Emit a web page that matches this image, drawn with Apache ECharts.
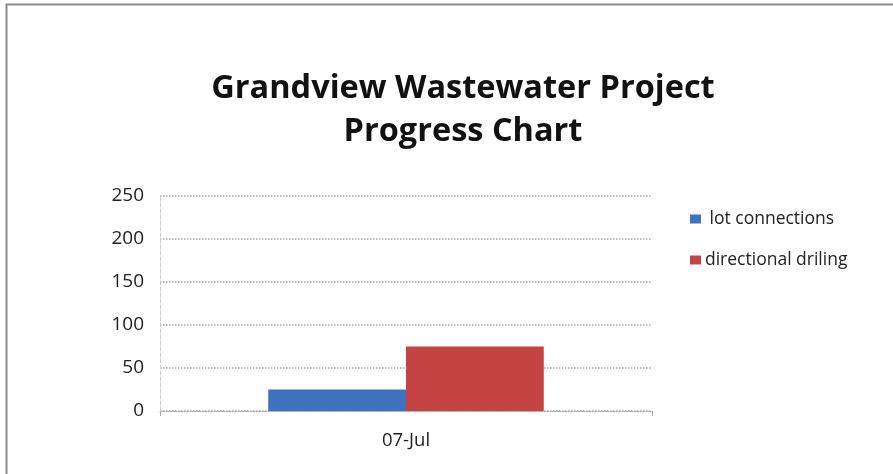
<!DOCTYPE html>
<html><head><meta charset="utf-8">
<script src="https://cdn.jsdelivr.net/npm/echarts@6/dist/echarts.min.js"></script>
<style>html,body{margin:0;padding:0;background:#fff}#c{width:893px;height:474px}</style>
</head><body><div id="c"></div>
<script>
const categories = ['07-Jul'];
const seriesNames = [' lot connections', 'directional driling'];
const lotConnections = [25];
const directionalDrilling = [75];
const yTicks = [0, 50, 100, 150, 200, 250];

const chart = echarts.init(document.getElementById('c'), null, {renderer: 'canvas'});
const fontFam = '"Open Sans", "Noto Sans", sans-serif';
chart.setOption({
  animation: false,
  backgroundColor: '#fff',
  title: {
    text: 'Grandview Wastewater Project\nProgress Chart',
    left: 458, top: 62, textAlign: 'center',
    textStyle: {fontFamily: fontFam, fontWeight: 'bold', fontSize: 32.5, lineHeight: 43, color: '#111'}
  },
  legend: {
    orient: 'vertical', left: 685, top: 205, itemGap: 23,
    itemWidth: 11, itemHeight: 9, icon: 'rect',
    textStyle: {fontFamily: fontFam, fontSize: 17.5, color: '#222', padding: [0, 0, 0, -1]},
    data: seriesNames
  },
  grid: {left: 160, right: 241, top: 196, bottom: 63, containLabel: false},
  xAxis: {
    type: 'category', data: categories,
    axisLine: {lineStyle: {color: '#aaa', type: 'dotted'}},
    axisTick: {show: true, alignWithLabel: false, lineStyle: {color: '#aaa'}},
    axisLabel: {fontFamily: fontFam, fontSize: 18.5, color: '#222', margin: 20}
  },
  yAxis: {
    type: 'value', min: yTicks[0], max: yTicks[yTicks.length - 1], interval: 50,
    axisLine: {show: true, lineStyle: {color: '#ccc', type: 'dashed'}},
    axisTick: {show: false},
    splitLine: {lineStyle: {color: '#aaa', type: 'dotted', width: 1.5}},
    axisLabel: {fontFamily: fontFam, fontSize: 19, color: '#222', margin: 16}
  },
  series: [
    {name: seriesNames[0], type: 'bar', data: lotConnections, barGap: '0%', barCategoryGap: '44%',
     itemStyle: {color: '#3f73bf'}},
    {name: seriesNames[1], type: 'bar', data: directionalDrilling, barGap: '0%', barCategoryGap: '44%',
     itemStyle: {color: '#c44443'}}
  ],
  graphic: [
    {type: 'rect', left: 4, top: 2, shape: {width: 900, height: 480}, silent: true, z: -1,
     style: {fill: 'none', stroke: '#8a8a8a', lineWidth: 2}}
  ]
});
</script></body></html>
